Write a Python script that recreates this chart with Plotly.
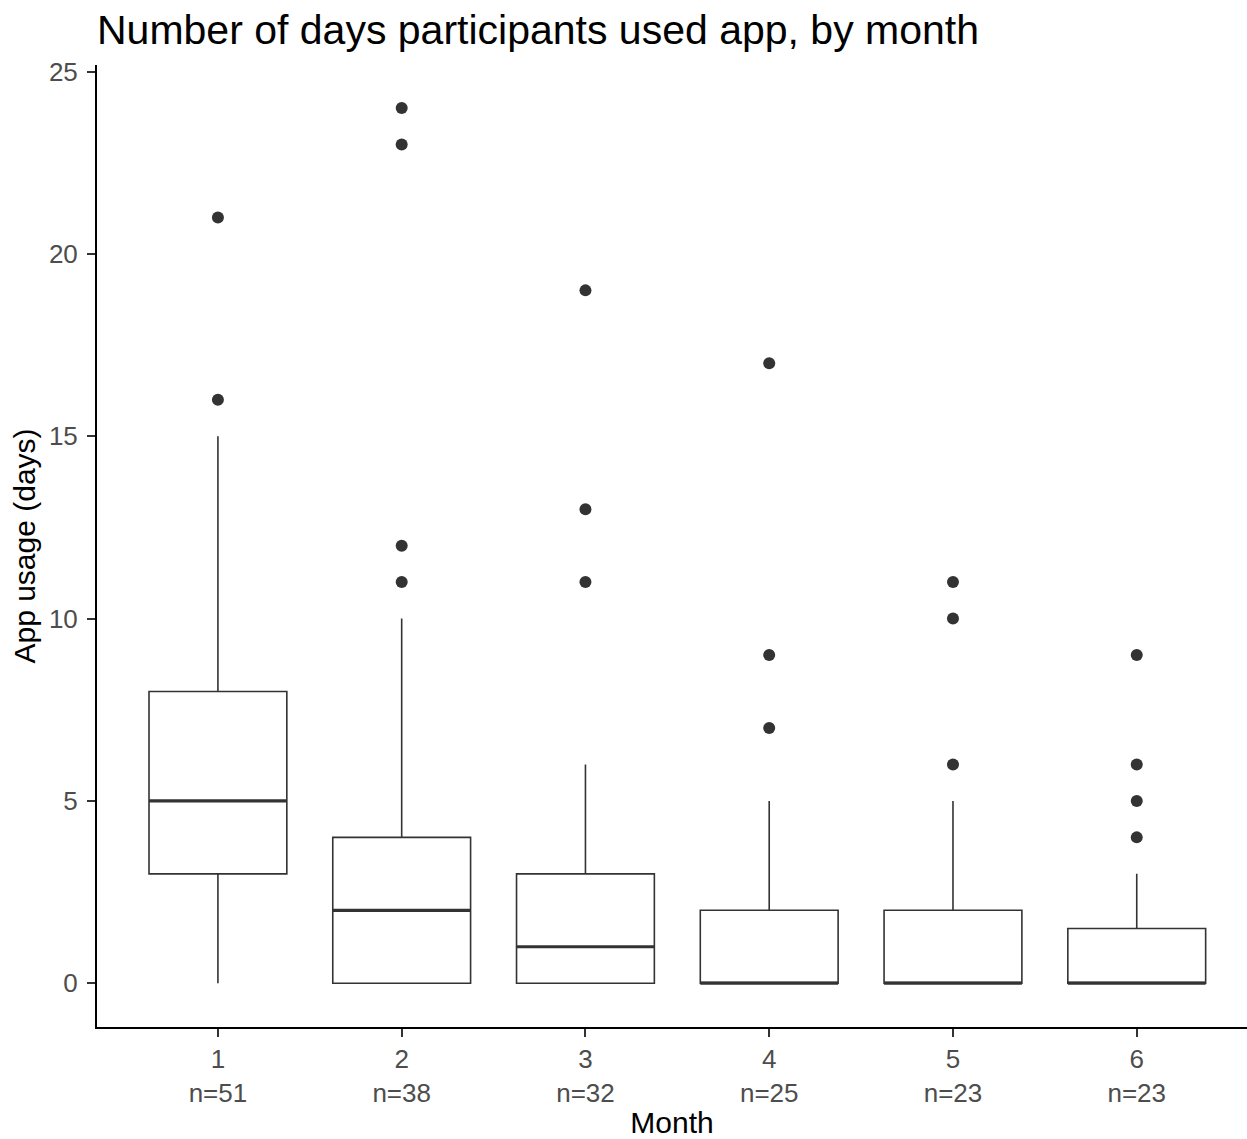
import plotly.graph_objects as go

# Monthly app usage summary (days), one box per month
months = [1, 2, 3, 4, 5, 6]
n_participants = [51, 38, 32, 25, 23, 23]
q1 = [3, 0, 0, 0, 0, 0]
median = [5, 2, 1, 0, 0, 0]
q3 = [8, 4, 3, 2, 2, 1.5]
lower_whisker = [0, 0, 0, 0, 0, 0]
upper_whisker = [15, 10, 6, 5, 5, 3]
outliers = [
    [16, 21],
    [11, 12, 23, 24],
    [11, 13, 19],
    [7, 9, 17],
    [6, 10, 11],
    [4, 5, 6, 9],
]
tick_labels = [f"{m}<br>n={n}" for m, n in zip(months, n_participants)]

FONT = "Liberation Sans, Arial, sans-serif"
INK = "#333333"
BOX_W = 0.75

fig = go.Figure()

for i, m in enumerate(months):
    fig.add_trace(go.Box(
        x=[m], q1=[q1[i]], median=[median[i]], q3=[q3[i]],
        lowerfence=[lower_whisker[i]], upperfence=[upper_whisker[i]],
        width=BOX_W, whiskerwidth=0,
        fillcolor="white", line=dict(color=INK, width=1.6),
        boxpoints=False, showlegend=False, hoverinfo="skip",
    ))
    # thicker median bar, as in ggplot boxplots
    fig.add_trace(go.Scatter(
        x=[m - BOX_W / 2, m + BOX_W / 2], y=[median[i], median[i]],
        mode="lines", line=dict(color=INK, width=3.2),
        showlegend=False, hoverinfo="skip",
    ))
    fig.add_trace(go.Scatter(
        x=[m] * len(outliers[i]), y=outliers[i], mode="markers",
        marker=dict(color=INK, size=12),
        showlegend=False, hoverinfo="skip",
    ))

fig.update_layout(
    width=1247, height=1139,
    margin=dict(l=97, r=0, t=65, b=112),
    paper_bgcolor="white", plot_bgcolor="white",
    font=dict(family=FONT, color="#000000"),
    title=dict(
        text="Number of days participants used app, by month",
        x=97 / 1247, xref="container", xanchor="left",
        y=1 - 30 / 1139, yref="container", yanchor="middle",
        font=dict(size=41, color="#000000", family=FONT),
    ),
    xaxis=dict(
        range=[0.342, 6.6],
        tickmode="array", tickvals=months, ticktext=tick_labels,
        showgrid=False, zeroline=False,
        showline=True, linecolor="#000000", linewidth=2,
        ticks="outside", ticklen=8, tickwidth=2, tickcolor=INK,
        tickfont=dict(size=26, color="#4D4D4D", family=FONT),
        automargin=False,
        title=dict(text="Month", font=dict(size=30, color="#000000", family=FONT), standoff=8),
    ),
    yaxis=dict(
        range=[-1.2, 25.18],
        tickmode="array", tickvals=[0, 5, 10, 15, 20, 25],
        showgrid=False, zeroline=False,
        showline=True, linecolor="#000000", linewidth=2,
        ticks="outside", ticklen=8, tickwidth=2, tickcolor=INK,
        tickfont=dict(size=26, color="#4D4D4D", family=FONT),
        ticklabelstandoff=4, automargin=False,
        title=dict(text="App usage (days)", font=dict(size=30, color="#000000", family=FONT), standoff=4),
    ),
)

fig.write_html("out.html")
